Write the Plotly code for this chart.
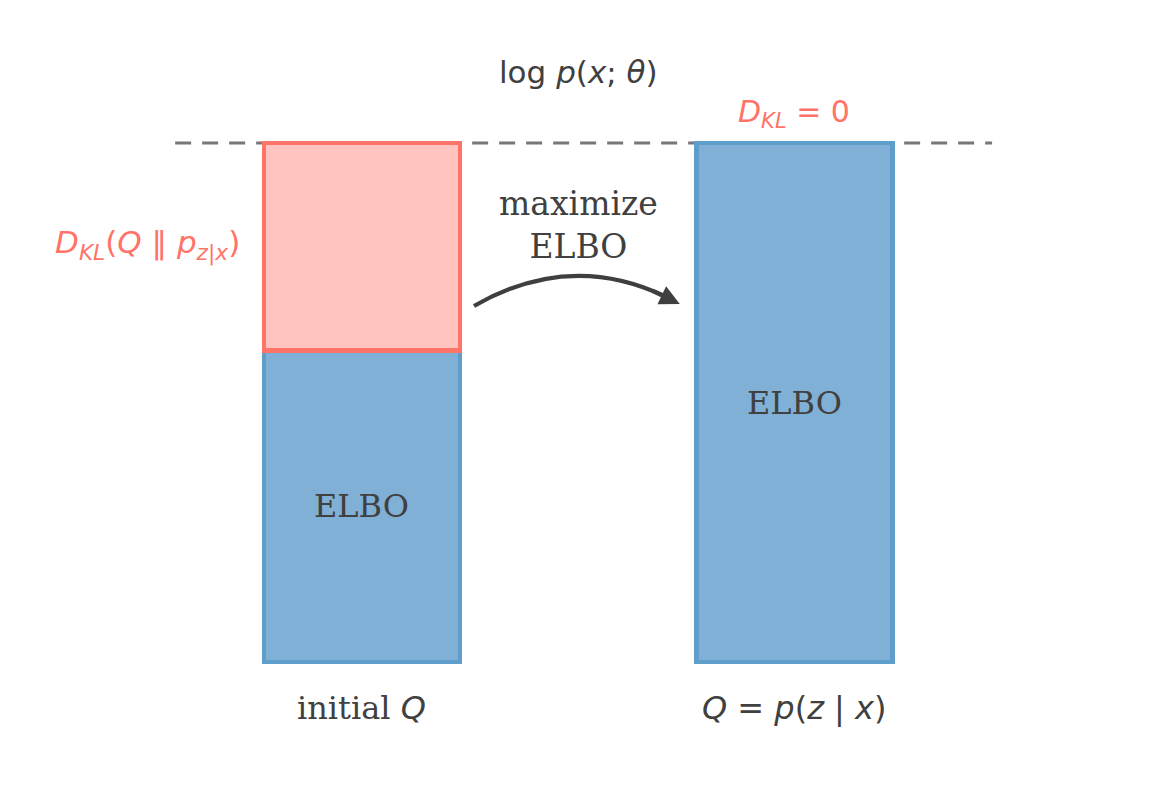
import plotly.graph_objects as go

# data
conditions = ["initial <i>Q</i>", "<i>Q</i> = <i>p</i>(<i>z</i> | <i>x</i>)"]
positions = [0, 1]
elbo = [0.6, 1.0]
kl = [0.4, 0.0]
log_evidence = 1.0

# style
BLUE_FILL = "#81b0d6"
BLUE_EDGE = "#5f9ecb"
RED_FILL = "#ffc4c0"
RED_EDGE = "#ff7368"
TEXT = "#404040"
SERIF = "DejaVu Serif"
MATH = "DejaVu Sans"
W, H = 1159, 785
# the page body adds an 8px margin, so the ranges are nudged to compensate
X_RANGE = [-0.837 + 0.0185, 1.843 + 0.0185]
Y_RANGE = [-0.237 - 0.0154, 1.2755 - 0.0154]
BAR_W = 0.453


def math(s):
    return '<span style="font-family:%s">%s</span>' % (MATH, s)


fig = go.Figure()
fig.add_trace(
    go.Bar(
        x=positions,
        y=elbo,
        width=BAR_W,
        marker=dict(color=BLUE_FILL, line=dict(color=BLUE_EDGE, width=4.5)),
        hoverinfo="skip",
    )
)
fig.add_trace(
    go.Bar(
        x=positions,
        y=kl,
        width=BAR_W,
        marker=dict(
            color=RED_FILL,
            line=dict(color=RED_EDGE, width=[4.5 if v > 0 else 0 for v in kl]),
        ),
        hoverinfo="skip",
    )
)

# log-evidence level
fig.add_shape(
    type="line",
    x0=-0.432, x1=1.457, y0=log_evidence, y1=log_evidence,
    line=dict(color="#777777", width=3, dash="16px,11px"),
    layer="below",
)

annotations = []
for pos, e, label in zip(positions, elbo, conditions):
    annotations.append(dict(x=pos, y=e / 2, text="ELBO",
                            font=dict(family=SERIF, size=32, color=TEXT)))
    if label.startswith("initial"):
        txt = "initial " + math("<i>Q</i>")
    else:
        txt = math(label)
    annotations.append(dict(x=pos, y=0, yshift=-46, text=txt,
                            font=dict(family=SERIF, size=32, color=TEXT)))

annotations += [
    dict(x=0.5, y=log_evidence, yshift=71,
         text="log <i>p</i>(<i>x</i>; <i>θ</i>)",
         font=dict(family=MATH, size=31, color=TEXT)),
    dict(x=positions[1], y=log_evidence, yshift=29,
         text="<i>D</i><sub><i>KL</i></sub> = 0",
         font=dict(family=MATH, size=30, color=RED_EDGE)),
    dict(x=positions[0] - BAR_W / 2, xshift=-22, xanchor="right",
         y=elbo[0] + kl[0] / 2, yshift=2,
         text="<i>D</i><sub><i>KL</i></sub>(<i>Q</i> ‖ <i>p</i><sub><i>z</i>|<i>x</i></sub>)",
         font=dict(family=MATH, size=31, color=RED_EDGE)),
    dict(x=0.5, y=0.842, text="maximize<br>ELBO",
         font=dict(family=SERIF, size=33, color=TEXT)),
]

# curved arrow between the bars
p0 = (0.259, 0.686)
pc = (0.497, 0.800)
p1 = (0.735, 0.690)


def lerp(a, b, s):
    return (a[0] + (b[0] - a[0]) * s, a[1] + (b[1] - a[1]) * s)


def split(t):
    c = lerp(p0, pc, t)
    return c, lerp(c, lerp(pc, p1, t), t)


c1, end = split(0.93)
_, tail = split(0.86)
fig.add_shape(
    type="path",
    path="M %f,%f Q %f,%f %f,%f" % (p0[0], p0[1], c1[0], c1[1], end[0], end[1]),
    line=dict(color="#3f3f3f", width=4.2),
)
annotations.append(dict(
    x=p1[0], y=p1[1], ax=tail[0], ay=tail[1], axref="x", ayref="y",
    text="", showarrow=True, arrowhead=2, arrowsize=0.95, arrowwidth=4.2,
    arrowcolor="#3f3f3f", standoff=0,
))

for a in annotations:
    a.setdefault("showarrow", False)
fig.update_layout(
    annotations=annotations,
    barmode="stack",
    showlegend=False,
    width=W,
    height=H,
    margin=dict(l=0, r=0, t=0, b=0),
    plot_bgcolor="white",
    paper_bgcolor="white",
    xaxis=dict(range=X_RANGE, visible=False, fixedrange=True),
    yaxis=dict(range=Y_RANGE, visible=False, fixedrange=True),
)

fig.write_html("out.html")
